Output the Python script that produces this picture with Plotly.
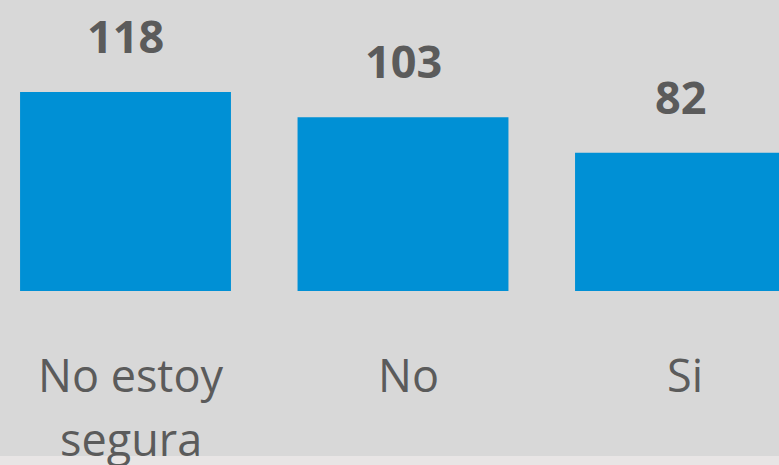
import plotly.graph_objects as go

categories = ["No estoy<br>segura", "No", "Si"]
counts = [118, 103, 82]

BG = "#d8d8d8"
BAR = "#0090d5"
TEXT = "#5b5b5b"
FONT = "Open Sans"

W, H = 779, 465
PLOT_H = 291  # plot area height in px (top margin 0)

fig = go.Figure(
    go.Bar(
        x=list(range(len(categories))),
        y=counts,
        width=0.76,
        marker=dict(color=BAR, line=dict(width=0)),
        hoverinfo="skip",
    )
)

annotations = []
# value labels above each bar
for i, v in enumerate(counts):
    annotations.append(dict(
        x=i, y=v, xref="x", yref="y", text=str(v), showarrow=False,
        yanchor="bottom", yshift=24,
        font=dict(family=FONT, size=45, color=TEXT, weight="bold"),
    ))
# category labels under the bars, one annotation per line
for i, label in enumerate(categories):
    for j, line in enumerate(label.split("<br>")):
        annotations.append(dict(
            x=i, y=0, xref="x", yref="paper", text=line, showarrow=False,
            yanchor="top", yshift=-51 - 64 * j, xshift=5,
            font=dict(family=FONT, size=45, color=TEXT),
        ))

fig.update_layout(
    width=W, height=H,
    margin=dict(l=0, r=0, t=0, b=H - PLOT_H, pad=0),
    paper_bgcolor=BG, plot_bgcolor=BG,
    showlegend=False,
    xaxis=dict(range=[-0.4523, 2.355], visible=False, fixedrange=True),
    yaxis=dict(range=[0, 172.6], visible=False, fixedrange=True),
    annotations=annotations,
    shapes=[dict(
        type="rect", xref="paper", yref="paper",
        x0=0, x1=1, y0=(PLOT_H - 456) / PLOT_H, y1=(PLOT_H - 470) / PLOT_H,
        fillcolor="#e8e5e5", line=dict(width=0), layer="below",
    )],
)

fig.write_html("out.html", config=dict(displayModeBar=False))
